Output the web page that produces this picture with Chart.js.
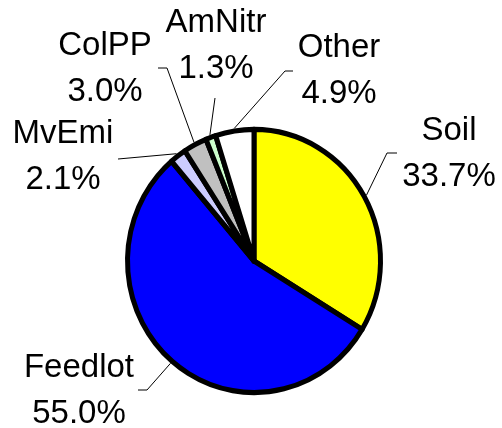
<!DOCTYPE html>
<html>
<head>
<meta charset="utf-8">
<script src="https://cdn.jsdelivr.net/npm/chart.js@4"></script>
<style>
  html, body { margin: 0; padding: 0; background: #fff; }
  #pie { display: block; }
</style>
</head>
<body>
<canvas id="pie" width="502" height="428"></canvas>
<script>
const categories = ['Soil', 'Feedlot', 'MvEmi', 'ColPP', 'AmNitr', 'Other'];
const shares = [33.7, 55.0, 2.1, 3.0, 1.3, 4.9];
const sliceColors = ['#FFFF00', '#0000FF', '#CCCCFF', '#C0C0C0', '#CCFFCC', '#FFFFFF'];

// label placement: text centre x, first baseline y, leader elbow and end
const labelLayout = [
    { x: 449, y: 140, elbow: [387, 153], end: [397, 153] },
    { x: 79,  y: 377, elbow: [147, 390], end: [138, 390] },
    { x: 63,  y: 143, elbow: [118, 159], end: [118, 159] },
    { x: 105, y: 55,  elbow: [167, 68],  end: [158, 68] },
    { x: 216, y: 32,  elbow: [215, 98],  end: [215, 98] },
    { x: 339, y: 57,  elbow: [285, 71],  end: [293, 71] }
];

const Y_STRETCH = 1.04;

const stretchPie = {
    id: 'stretchPie',
    beforeDatasetsDraw(chart) {
        const arc = chart.getDatasetMeta(0).data[0];
        const ctx = chart.ctx;
        ctx.save();
        ctx.translate(0, arc.y);
        ctx.scale(1, Y_STRETCH);
        ctx.translate(0, -arc.y);
    },
    afterDatasetsDraw(chart) {
        chart.ctx.restore();
    }
};

const pieLabels = {
    id: 'pieLabels',
    afterDraw(chart) {
        const ctx = chart.ctx;
        const meta = chart.getDatasetMeta(0);
        ctx.save();
        meta.data.forEach((arc, i) => {
            const lay = labelLayout[i];
            const mid = (arc.startAngle + arc.endAngle) / 2;
            const r = arc.outerRadius + 2.5;
            const ax = arc.x + Math.cos(mid) * r;
            const ay = arc.y + Math.sin(mid) * r * Y_STRETCH;

            ctx.strokeStyle = '#000';
            ctx.lineWidth = 1;
            ctx.beginPath();
            ctx.moveTo(ax, ay);
            ctx.lineTo(lay.elbow[0], lay.elbow[1]);
            ctx.lineTo(lay.end[0], lay.end[1]);
            ctx.stroke();

            ctx.fillStyle = '#000';
            ctx.font = '33px "Liberation Sans", Arial, sans-serif';
            ctx.textAlign = 'center';
            ctx.textBaseline = 'alphabetic';
            ctx.fillText(categories[i], lay.x, lay.y);
            ctx.fillText(shares[i].toFixed(1) + '%', lay.x, lay.y + 46);
        });
        ctx.restore();
    }
};

new Chart(document.getElementById('pie'), {
    type: 'pie',
    data: {
        labels: categories,
        datasets: [{
            data: shares,
            backgroundColor: sliceColors,
            borderColor: '#000',
            borderWidth: 5,
            borderJoinStyle: 'round',
            radius: 126.5
        }]
    },
    options: {
        responsive: false,
        animation: false,
        layout: { padding: { left: 6, right: 0, top: 94, bottom: 0 } },
        plugins: {
            legend: { display: false },
            tooltip: { enabled: false }
        }
    },
    plugins: [stretchPie, pieLabels]
});
</script>
</body>
</html>
